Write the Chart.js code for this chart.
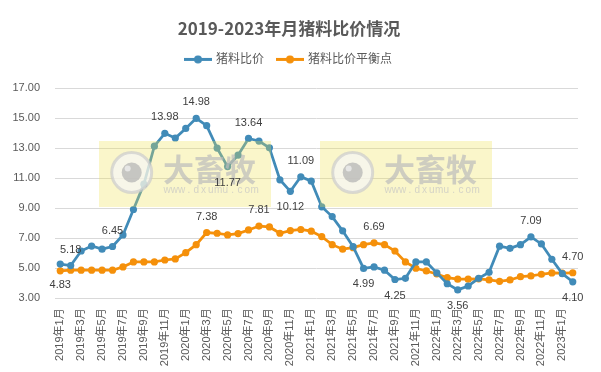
<!DOCTYPE html>
<html>
<head>
<meta charset="utf-8">
<script src="https://cdn.jsdelivr.net/npm/chart.js@4.4.0/dist/chart.umd.min.js"></script>
<style>
  html, body { margin: 0; padding: 0; background: #fff; }
  #wrap { width: 601px; height: 372px; }
</style>
</head>
<body>
<div id="wrap"><canvas id="pigChart" width="601" height="372"></canvas></div>
<script>
const months = [
  "2019年1月", "2019年2月", "2019年3月", "2019年4月", "2019年5月", "2019年6月",
  "2019年7月", "2019年8月", "2019年9月", "2019年10月", "2019年11月", "2019年12月",
  "2020年1月", "2020年2月", "2020年3月", "2020年4月", "2020年5月", "2020年6月",
  "2020年7月", "2020年8月", "2020年9月", "2020年10月", "2020年11月", "2020年12月",
  "2021年1月", "2021年2月", "2021年3月", "2021年4月", "2021年5月", "2021年6月",
  "2021年7月", "2021年8月", "2021年9月", "2021年10月", "2021年11月", "2021年12月",
  "2022年1月", "2022年2月", "2022年3月", "2022年4月", "2022年5月", "2022年6月",
  "2022年7月", "2022年8月", "2022年9月", "2022年10月", "2022年11月", "2022年12月",
  "2023年1月", "2023年2月"
];

const feedRatio = [
  5.28, 5.18, 6.15, 6.48, 6.27, 6.45, 7.22, 8.91, 10.6, 13.13, 13.98, 13.67,
  14.31, 14.98, 14.49, 13.0, 11.77, 12.53, 13.64, 13.47, 13.02, 10.89, 10.12, 11.09,
  10.8, 9.09, 8.44, 7.49, 6.44, 4.99, 5.09, 4.87, 4.25, 4.33, 5.42, 5.42,
  4.69, 3.97, 3.56, 3.82, 4.33, 4.73, 6.47, 6.33, 6.57, 7.09, 6.62, 5.6,
  4.64, 4.10
];

const balancePoint = [
  4.83, 4.87, 4.87, 4.87, 4.87, 4.87, 5.09, 5.42, 5.42, 5.42, 5.55, 5.62,
  6.04, 6.57, 7.38, 7.33, 7.22, 7.31, 7.55, 7.81, 7.75, 7.33, 7.51, 7.58,
  7.47, 7.11, 6.57, 6.27, 6.37, 6.57, 6.69, 6.57, 6.15, 5.42, 5.0, 4.82,
  4.62, 4.37, 4.27, 4.27, 4.29, 4.22, 4.13, 4.22, 4.44, 4.49, 4.6, 4.69,
  4.67, 4.70
];

const yTicks = [3, 5, 7, 9, 11, 13, 15, 17];

// which points get a value label, and on which side
const ratioAbove = [1, 5, 10, 13, 18, 23, 45];
const ratioBelow = [16, 22, 29, 32, 38, 49];
const balanceAbove = [14, 19, 30, 49];
const balanceBelow = [0];

const BLUE = "#418bb8";
const ORANGE = "#f5900a";
const FONT = '"Liberation Sans", "Noto Sans CJK SC", sans-serif';

function legendIcon(color) {
  const c = document.createElement("canvas");
  c.width = 28;
  c.height = 9;
  const g = c.getContext("2d");
  g.strokeStyle = color;
  g.lineWidth = 3;
  g.beginPath();
  g.moveTo(0, 4.5);
  g.lineTo(28, 4.5);
  g.stroke();
  g.fillStyle = color;
  g.beginPath();
  g.arc(14, 4.5, 4, 0, Math.PI * 2);
  g.fill();
  return c;
}
const icons = [legendIcon(BLUE), legendIcon(ORANGE)];

const legendSpace = {
  id: "legendSpace",
  beforeInit(chart) {
    const fit = chart.legend.fit;
    chart.legend.fit = function () {
      fit.call(this);
      this.height = 48.6;
    };
  },
};

function drawMark(ctx, x0, y0) {
  ctx.save();
  ctx.fillStyle = "rgba(240, 225, 80, 0.3)";
  ctx.fillRect(x0, y0, 172, 66);
  ctx.globalAlpha = 0.7;
  // round logo
  const cx = x0 + 32.7, cy = y0 + 31.5;
  ctx.fillStyle = "#f6f6f6";
  ctx.beginPath();
  ctx.arc(cx, cy, 20, 0, Math.PI * 2);
  ctx.fill();
  ctx.strokeStyle = "#cccccc";
  ctx.lineWidth = 3;
  ctx.stroke();
  ctx.fillStyle = "#b0b0b0";
  ctx.beginPath();
  ctx.arc(cx, cy, 10, 0, Math.PI * 2);
  ctx.fill();
  ctx.fillStyle = "#f4f4f4";
  ctx.beginPath();
  ctx.arc(cx - 4, cy - 4, 3, 0, Math.PI * 2);
  ctx.fill();
  // name
  ctx.fillStyle = "#bcbcbc";
  ctx.font = 'bold 31px "Noto Sans CJK SC", sans-serif';
  ctx.textAlign = "left";
  ctx.textBaseline = "middle";
  ctx.fillText("大畜牧", x0 + 64, y0 + 28);
  ctx.font = '10px "Liberation Sans", sans-serif';
  ctx.fillStyle = "#c4c4c4";
  const site = "www.dxumu.com";
  for (let i = 0; i < site.length; i++) {
    ctx.textAlign = "center";
    ctx.fillText(site[i], x0 + 68 + i * 7.3, y0 + 49);
  }
  ctx.restore();
}

const watermark = {
  id: "watermark",
  afterDatasetsDraw(chart) {
    drawMark(chart.ctx, 99, 141);
    drawMark(chart.ctx, 320, 141);
  },
};

const valueLabels = {
  id: "valueLabels",
  afterDraw(chart) {
    const ctx = chart.ctx;
    ctx.save();
    ctx.font = "11px " + FONT;
    ctx.fillStyle = "#404040";
    ctx.textAlign = "center";
    ctx.textBaseline = "middle";
    const sets = [
      [0, ratioAbove, -16], [0, ratioBelow, 16],
      [1, balanceAbove, -16], [1, balanceBelow, 14],
    ];
    sets.forEach(([ds, idx, dy]) => {
      const meta = chart.getDatasetMeta(ds);
      const values = chart.data.datasets[ds].data;
      idx.forEach((i) => {
        const pt = meta.data[i];
        ctx.fillText(values[i].toFixed(2), pt.x, pt.y + dy);
      });
    });
    ctx.restore();
  },
};

const ctx = document.getElementById("pigChart").getContext("2d");
new Chart(ctx, {
  type: "line",
  data: {
    labels: months,
    datasets: [
      {
        label: "猪料比价",
        data: feedRatio,
        borderColor: BLUE,
        backgroundColor: BLUE,
        borderWidth: 2.75,
        pointRadius: 3.6,
        pointBorderWidth: 0,
        tension: 0,
      },
      {
        label: "猪料比价平衡点",
        data: balancePoint,
        borderColor: ORANGE,
        backgroundColor: ORANGE,
        borderWidth: 2.75,
        pointRadius: 3.6,
        pointBorderWidth: 0,
        tension: 0,
      },
    ],
  },
  options: {
    responsive: false,
    animation: false,
    layout: { padding: { left: 0, right: 23, top: 0, bottom: 0 } },
    plugins: {
      title: {
        display: true,
        text: "2019-2023年月猪料比价情况",
        color: "#595959",
        font: { family: '"Noto Sans CJK SC", sans-serif', size: 17, weight: "bold", lineHeight: 1.2 },
        padding: { top: 18, bottom: 1 },
      },
      legend: {
        labels: {
          color: "#595959",
          font: { family: FONT, size: 12 },
          usePointStyle: true,
          pointStyleWidth: 24,
          padding: 14,
          generateLabels(chart) {
            return chart.data.datasets.map((d, i) => ({
              text: d.label,
              fontColor: "#595959",
              pointStyle: icons[i],
              datasetIndex: i,
              hidden: false,
              lineWidth: 0,
            }));
          },
        },
      },
      tooltip: { enabled: false },
    },
    scales: {
      x: {
        offset: true,
        grid: { display: false, drawTicks: false },
        border: { display: false },
        afterFit: (scale) => { scale.height = 73.7; },
        ticks: {
          autoSkip: false,
          minRotation: 90,
          maxRotation: 90,
          padding: 10,
          color: "#595959",
          font: { family: FONT, size: 11 },
          callback: (value, index) => (index % 2 === 0 ? months[index] : ""),
        },
      },
      y: {
        min: yTicks[0],
        max: yTicks[yTicks.length - 1],
        afterFit: (scale) => { scale.width = 55; },
        afterBuildTicks: (scale) => { scale.ticks = yTicks.map((v) => ({ value: v })); },
        grid: { color: "#d9d9d9", drawTicks: false },
        border: { display: false },
        ticks: {
          padding: 15,
          color: "#595959",
          font: { family: FONT, size: 11 },
          callback: (value) => value.toFixed(2),
        },
      },
    },
  },
  plugins: [legendSpace, watermark, valueLabels],
});
</script>
</body>
</html>
